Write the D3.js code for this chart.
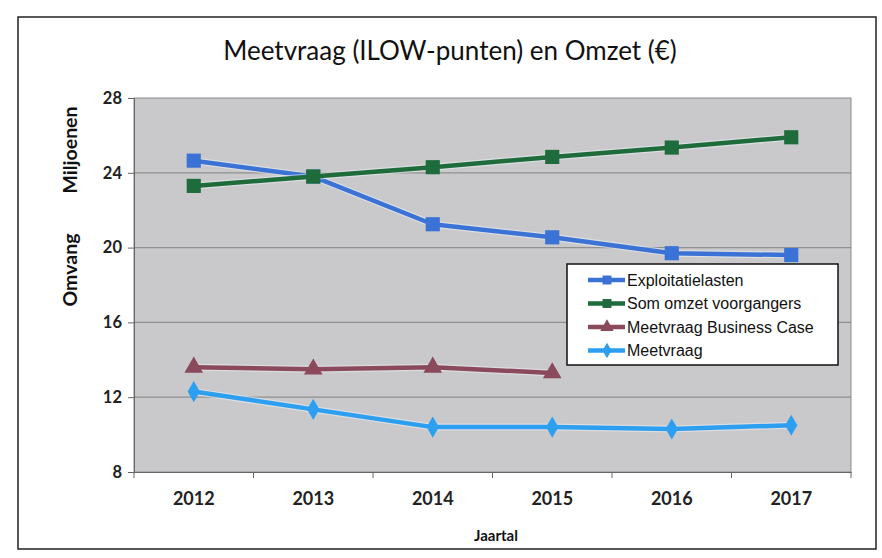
<!DOCTYPE html>
<html><head><meta charset="utf-8">
<script src="https://cdn.jsdelivr.net/npm/d3@7"></script>
<style>body{margin:0;background:#fff}svg{display:block}</style>
</head><body><svg id="c" width="882" height="558"></svg>
<script>
const years = ["2012","2013","2014","2015","2016","2017"];
const exploitatielasten = [24.65, 23.8, 21.25, 20.55, 19.7, 19.6];
const somOmzet = [23.3, 23.8, 24.3, 24.85, 25.35, 25.9];
const meetvraagBC = [13.6, 13.5, 13.6, 13.3, null, null];
const meetvraag = [12.3, 11.35, 10.4, 10.4, 10.3, 10.5];
const yTicks = [8, 12, 16, 20, 24, 28];
const seriesNames = ["Exploitatielasten","Som omzet voorgangers","Meetvraag Business Case","Meetvraag"];

const svg = d3.select("#c");
const L = 134, R = 851, T = 98, B = 472;
const x = d3.scaleBand().domain(years).range([L, R]);
const y = d3.scaleLinear().domain([8, 28]).range([B, T]);

// outer frame
svg.append("rect").attr("x",18).attr("y",17).attr("width",858).attr("height",532)
  .attr("fill","#fff").attr("stroke","#222").attr("stroke-width",1.5);

// plot bg
svg.append("rect").attr("x",L).attr("y",T).attr("width",R-L).attr("height",B-T)
  .attr("fill","#c9c9cb").attr("stroke","#8a8a8a");

// gridlines
svg.append("g").selectAll("line").data(yTicks.filter(d=>d>8&&d<28)).join("line")
  .attr("x1",L).attr("x2",R).attr("y1",d=>y(d)).attr("y2",d=>y(d))
  .attr("stroke","#8f8f8f").attr("stroke-width",1.2);

// y axis
const ya = svg.append("g").attr("transform",`translate(${L},0)`)
  .call(d3.axisLeft(y).tickValues(yTicks).tickSize(6).tickPadding(6));
ya.select(".domain").attr("stroke","#666");
ya.selectAll(".tick line").attr("stroke","#666");
ya.selectAll("text").attr("font-family","Lato, sans-serif").attr("font-weight","bold")
  .attr("font-size",16.5).attr("fill","#222");

// x axis
const xa = svg.append("g").attr("transform",`translate(0,${B})`)
  .call(d3.axisBottom(x).tickSize(0).tickPadding(20));
xa.select(".domain").attr("stroke","#666");
xa.selectAll("text").attr("font-family","Lato, sans-serif").attr("font-weight","bold")
  .attr("font-size",18).attr("fill","#222");
// tick marks between categories
svg.append("g").selectAll("line").data(d3.range(years.length+1)).join("line")
  .attr("x1",i=>L+i*x.bandwidth()).attr("x2",i=>L+i*x.bandwidth())
  .attr("y1",B).attr("y2",B+6).attr("stroke","#666");

// titles
svg.append("text").attr("x",450).attr("y",60).attr("text-anchor","middle")
  .attr("font-family","Lato, sans-serif").attr("font-size",26).attr("fill","#111")
  .text("Meetvraag (ILOW-punten) en Omzet (€)");
svg.append("text").attr("transform","translate(77,270) rotate(-90)").attr("text-anchor","middle")
  .attr("font-family","Lato, sans-serif").attr("font-weight","bold").attr("font-size",19.5).attr("fill","#111")
  .text("Omvang");
svg.append("text").attr("transform","translate(77,150) rotate(-90)").attr("text-anchor","middle")
  .attr("font-family","Lato, sans-serif").attr("font-weight","bold").attr("font-size",19.5).attr("fill","#111")
  .text("Miljoenen");
svg.append("text").attr("x",496).attr("y",541).attr("text-anchor","middle")
  .attr("font-family","Lato, sans-serif").attr("font-weight","bold").attr("font-size",15).attr("fill","#111")
  .text("Jaartal");

const series = [
  {name: seriesNames[0], values: exploitatielasten, color:"#3b72d6", marker:"square"},
  {name: seriesNames[1], values: somOmzet, color:"#1e6b3c", marker:"square"},
  {name: seriesNames[2], values: meetvraagBC, color:"#8b4a5c", marker:"triangle"},
  {name: seriesNames[3], values: meetvraag, color:"#2d9ff0", marker:"diamond"}
];
const cx = d => x(d) + x.bandwidth()/2;
const line = d3.line().defined(d=>d.v!=null).x(d=>cx(d.year)).y(d=>y(d.v));
const symbolOf = m => m==="square"? d3.symbolSquare : m==="triangle"? d3.symbolTriangle : d3.symbolDiamond;

series.forEach(s=>{
  const pts = years.map((yr,i)=>({year:yr, v:s.values[i]}));
  svg.append("path").datum(pts).attr("d",line).attr("fill","none")
    .attr("stroke","#eef2f6").attr("stroke-width",7).attr("stroke-opacity",0.5);
  svg.append("path").datum(pts).attr("d",line).attr("fill","none")
    .attr("stroke",s.color).attr("stroke-width",4.5).attr("stroke-linejoin","round");
  svg.append("g").selectAll("path").data(pts.filter(d=>d.v!=null)).join("path")
    .attr("transform",d=>`translate(${cx(d.year)},${y(d.v)})`)
    .attr("d",d3.symbol().type(symbolOf(s.marker)).size(s.marker==="diamond"?130:s.marker==="triangle"?150:200))
    .attr("fill",s.color);
});

// legend
const lg = svg.append("g").attr("transform","translate(567,264)");
lg.append("rect").attr("width",271).attr("height",101).attr("fill","#fff").attr("stroke","#111").attr("stroke-width",1.5);
series.forEach((s,i)=>{
  const yy = 16 + i*23.5;
  lg.append("line").attr("x1",21).attr("x2",58).attr("y1",yy).attr("y2",yy)
    .attr("stroke",s.color).attr("stroke-width",4.5);
  lg.append("path").attr("transform",`translate(40,${yy})`)
    .attr("d",d3.symbol().type(symbolOf(s.marker)).size(s.marker==="diamond"?70:80)).attr("fill",s.color);
  lg.append("text").attr("x",60).attr("y",yy+5.5).attr("font-family","'Liberation Sans', Arial, sans-serif")
    .attr("font-size",16).attr("fill","#111").text(s.name);
});
</script></body></html>
